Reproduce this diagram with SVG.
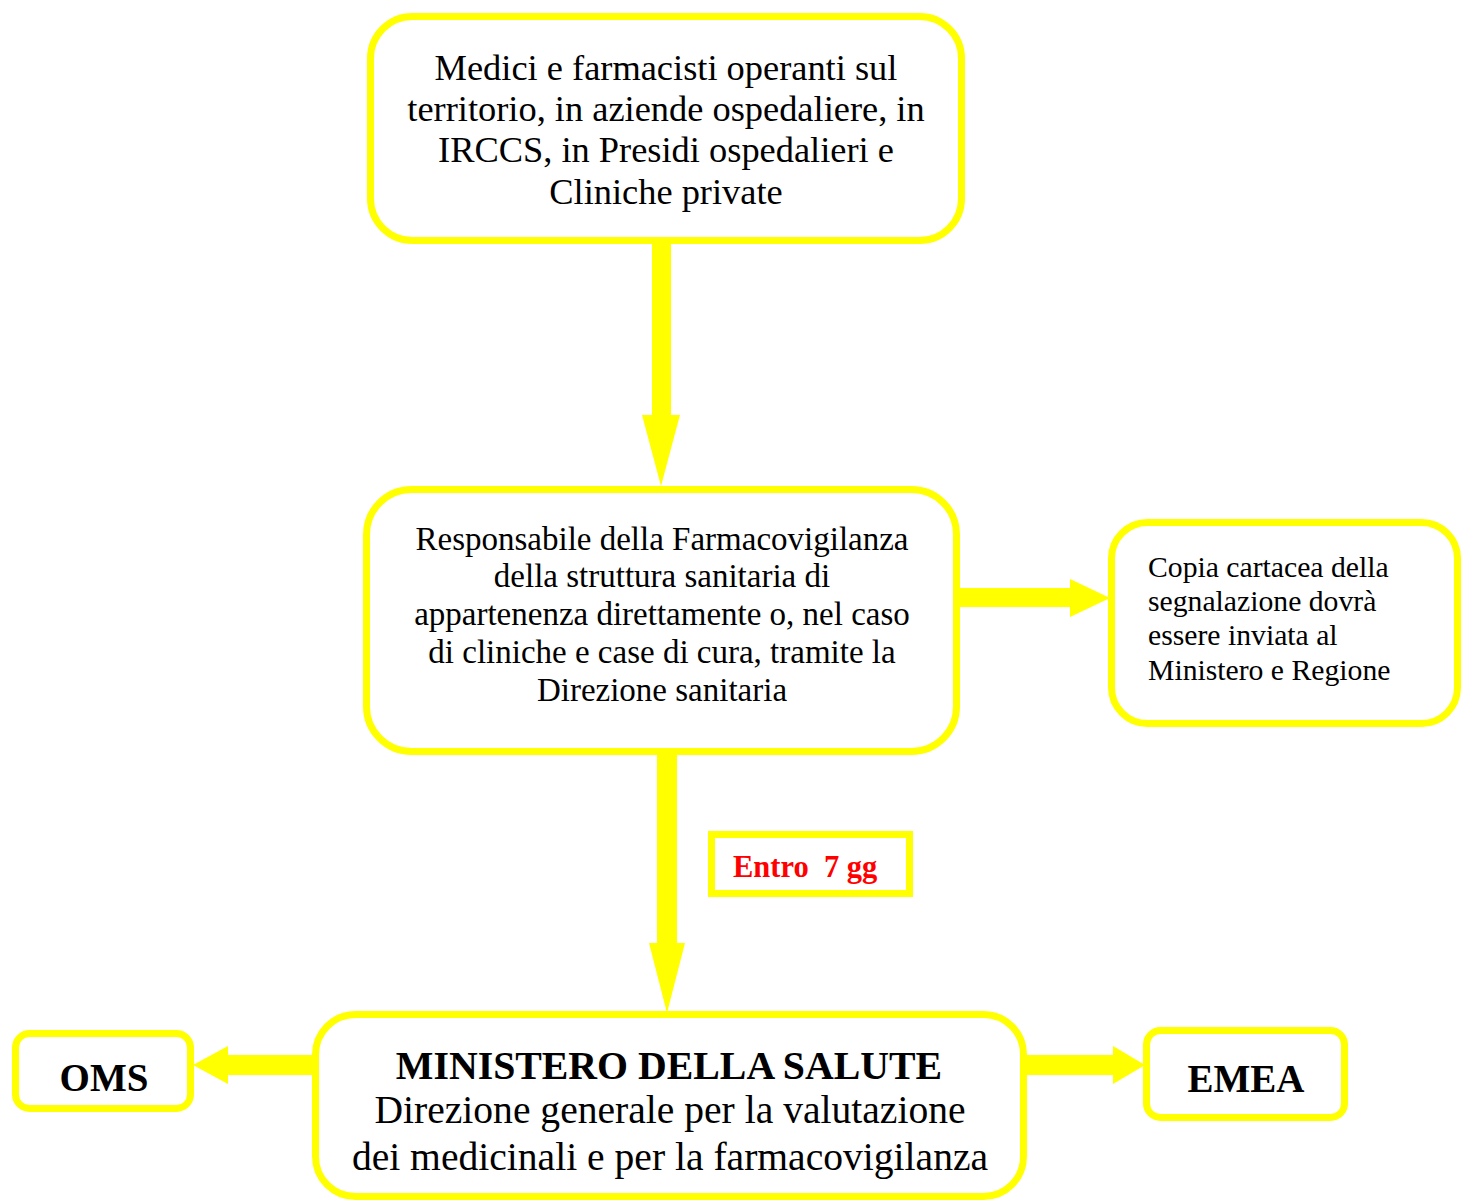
<svg xmlns="http://www.w3.org/2000/svg" width="1462" height="1202" viewBox="0 0 1462 1202">
<style>
.box{fill:#fff;stroke:#ffff00;stroke-width:7}
.t{font-family:"Liberation Serif","Times New Roman",serif;fill:#000}
.c{text-anchor:middle}
.b{font-weight:bold}
.arr{fill:#ffff00}
</style>
<rect width="1462" height="1202" fill="#fff"/>
<g id="connectors">
<polygon class="arr" points="652,243 671,243 671,415 680,415 661,486 642,415 652,415"/>
<polygon class="arr" points="960,588 1070,588 1070,579 1110,598 1070,617 1070,607 960,607"/>
<polygon class="arr" points="657,755 677,755 677,943 685,943 667,1013 649,943 657,943"/>
<polygon class="arr" points="313,1055 228,1055 228,1046 193,1065 228,1084 228,1075 313,1075"/>
<polygon class="arr" points="1026,1055 1113,1055 1113,1046 1145,1065 1113,1084 1113,1075 1026,1075"/>
</g>
<g id="node-medici">
<rect class="box" x="370.5" y="16.5" width="591" height="224" rx="42"/>
<text class="t c" font-size="36.4" x="666" y="80">Medici e farmacisti operanti sul</text>
<text class="t c" font-size="36.4" x="666" y="121">territorio, in aziende ospedaliere, in</text>
<text class="t c" font-size="36.4" x="666" y="162">IRCCS, in Presidi ospedalieri e</text>
<text class="t c" font-size="36.4" x="666" y="204">Cliniche private</text>
</g>
<g id="node-responsabile">
<rect class="box" x="366.5" y="489.5" width="590" height="262" rx="45"/>
<text class="t c" font-size="33" x="662" y="550">Responsabile della Farmacovigilanza</text>
<text class="t c" font-size="33" x="662" y="587">della struttura sanitaria di</text>
<text class="t c" font-size="33" x="662" y="625">appartenenza direttamente o, nel caso</text>
<text class="t c" font-size="33" x="662" y="663">di cliniche e case di cura, tramite la</text>
<text class="t c" font-size="33" x="662" y="701">Direzione sanitaria</text>
</g>
<g id="node-copia">
<rect class="box" x="1111.5" y="522.5" width="346" height="201" rx="36"/>
<text class="t" font-size="29.7" x="1148" y="577">Copia cartacea della</text>
<text class="t" font-size="29.7" x="1148" y="611">segnalazione dovrà</text>
<text class="t" font-size="29.7" x="1148" y="645">essere inviata al</text>
<text class="t" font-size="29.7" x="1148" y="680">Ministero e Regione</text>
</g>
<g id="node-entro">
<rect x="711.5" y="834.5" width="198" height="59" fill="#fff" stroke="#ffff00" stroke-width="7"/>
<text class="t b" font-size="30.5" x="733" y="877" style="fill:#ff0000" xml:space="preserve">Entro  7 gg</text>
</g>
<g id="node-ministero">
<rect class="box" x="315.5" y="1014.5" width="708" height="182" rx="40"/>
<text class="t c b" font-size="39.8" x="669" y="1079">MINISTERO DELLA SALUTE</text>
<text class="t c" font-size="39.6" x="670" y="1123">Direzione generale per la valutazione</text>
<text class="t c" font-size="39.6" x="670" y="1170">dei medicinali e per la farmacovigilanza</text>
</g>
<g id="node-oms">
<rect class="box" x="15.5" y="1033.5" width="175" height="75" rx="14"/>
<text class="t c b" font-size="39" x="104" y="1091">OMS</text>
</g>
<g id="node-emea">
<rect class="box" x="1146.5" y="1030.5" width="198" height="87" rx="14"/>
<text class="t c b" font-size="39" x="1246" y="1092">EMEA</text>
</g>
</svg>
